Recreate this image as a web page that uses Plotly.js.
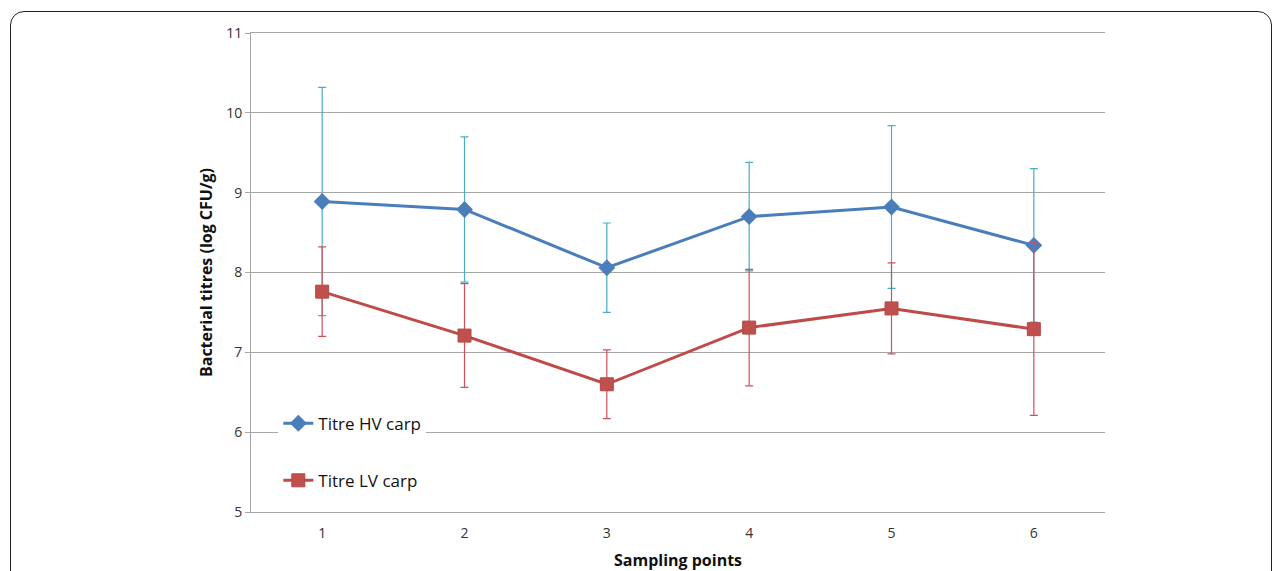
<!DOCTYPE html>
<html>
<head>
<meta charset="utf-8">
<script src="https://cdn.plot.ly/plotly-3.0.1.min.js"></script>
<style>
html,body{margin:0;padding:0;background:#fff;}
#wrap{position:relative;width:1281px;height:571px;overflow:hidden;}
#frame{position:absolute;left:10px;top:11px;width:1262px;height:600px;border:1.5px solid #222;border-radius:14px;box-sizing:border-box;pointer-events:none;z-index:5;}
#chart{position:absolute;left:0;top:0;width:1281px;height:571px;}
</style>
</head>
<body>
<div id="wrap">
<div id="chart"></div>
<div id="frame"></div>
</div>
<script>
const categories = [1, 2, 3, 4, 5, 6];
const hvTitre = [8.89, 8.79, 8.06, 8.70, 8.82, 8.34];
const hvError = [1.43, 0.91, 0.56, 0.68, 1.02, 0.96];
const lvTitre = [7.76, 7.21, 6.60, 7.31, 7.55, 7.29];
const lvError = [0.56, 0.65, 0.43, 0.73, 0.57, 1.08];
const seriesNames = ["Titre HV carp", "Titre LV carp"];

const traces = [
  {
    x: categories, y: hvTitre, name: seriesNames[0], type: 'scatter', mode: 'lines+markers',
    legendgroup: 'a',
    line: {color: '#4A7EBB', width: 3},
    marker: {symbol: 'diamond', size: 13, color: '#4A7EBB'},
    error_y: {type: 'data', array: hvError, visible: true, color: '#4BACC6', thickness: 1.2, width: 4}
  },
  {
    x: categories, y: lvTitre, name: seriesNames[1], type: 'scatter', mode: 'lines+markers',
    legendgroup: 'b',
    line: {color: '#BE4B48', width: 3},
    marker: {symbol: 'square', size: 13, color: '#C0504D', line: {color: '#B04A47', width: 1}},
    error_y: {type: 'data', array: lvError, visible: true, color: '#D0505D', thickness: 1.2, width: 4}
  }
];

const layout = {
  width: 1281, height: 571,
  margin: {l: 251, r: 176, t: 33, b: 59},
  paper_bgcolor: '#fff', plot_bgcolor: '#fff',
  font: {family: 'Open Sans, sans-serif', color: '#222'},
  showlegend: true,
  legend: {
    x: 0.032, y: 0.222, xanchor: 'left', yanchor: 'top',
    bgcolor: '#fff', borderwidth: 0,
    font: {size: 17, color: '#111'},
    tracegroupgap: 32, traceorder: 'grouped',
    itemwidth: 30
  },
  xaxis: {
    range: [0.5, 6.5], tickvals: categories, ticktext: categories.map(String),
    showgrid: false, zeroline: false, showline: true, mirror: true, linecolor: '#A6A6A6', linewidth: 1,
    ticks: 'outside', ticklen: 8, tickcolor: 'rgba(0,0,0,0)', tickfont: {size: 14, color: '#333'},
    title: {text: '<b>Sampling points</b>', font: {size: 16, color: '#111'}, standoff: 16},
    fixedrange: true
  },
  yaxis: {
    range: [5, 11], dtick: 1, tick0: 5,
    showgrid: true, gridcolor: '#A6A6A6', gridwidth: 1,
    zeroline: false, showline: true, linecolor: '#A6A6A6', linewidth: 1,
    ticks: 'outside', ticklen: 5, tickcolor: '#A6A6A6',
    tickfont: {size: 14, color: '#333'},
    title: {text: '<b>Bacterial titres (log CFU/g)</b>', font: {size: 16, color: '#111'}, standoff: 9},
    fixedrange: true
  }
};

Plotly.newPlot('chart', traces, layout, {displayModeBar: false, staticPlot: true});
</script>
</body>
</html>
